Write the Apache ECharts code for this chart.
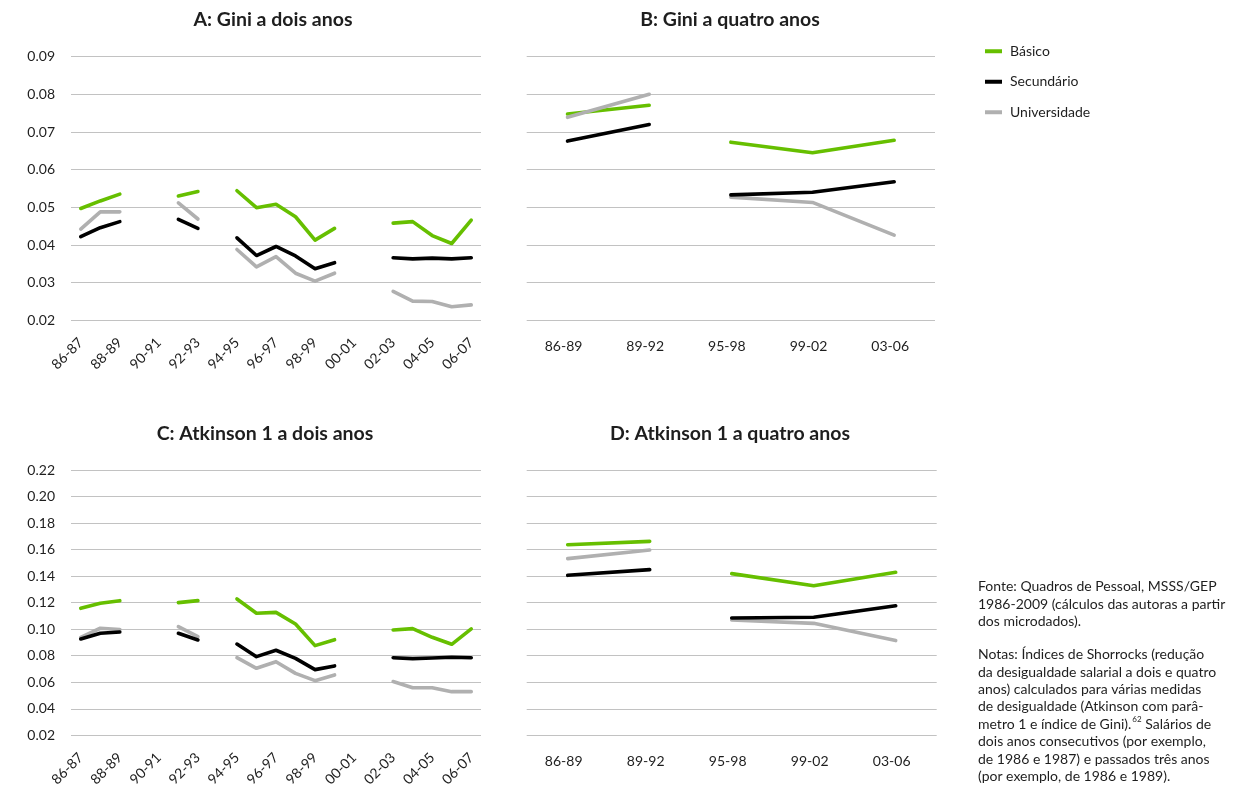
<!DOCTYPE html>
<html>
<head>
<meta charset="utf-8">
<script src="https://cdn.jsdelivr.net/npm/echarts@6/dist/echarts.min.js"></script>
<style>
  html, body { margin: 0; padding: 0; background: #fff; }
  #chart { width: 1254px; height: 794px; }
</style>
</head>
<body>
<div id="chart"></div>
<script>
// Two-year windows (Shorrocks index between consecutive years)
const twoYearCats = ['86-87','87-88','88-89','89-90','90-91','91-92','92-93','93-94','94-95','95-96',
  '96-97','97-98','98-99','99-00','00-01','01-02','02-03','03-04','04-05','05-06','06-07'];
// Four-year windows
const fourYearCats = ['86-89','89-92','95-98','99-02','03-06'];
// the four-year series are interrupted between 89-92 and 95-98
const fourYearBreakAt = 2;

const seriesNames = ['Básico', 'Secundário', 'Universidade'];

// A: Gini, two years
const giniTwoBasico = [0.0497, 0.0517, 0.0535, null, null, 0.0530, 0.0542, null, 0.0544, 0.0499, 0.0508,
  0.0475, 0.0413, 0.0444, null, null, 0.0458, 0.0462, 0.0425, 0.0404, 0.0466];
const giniTwoSecundario = [0.0422, 0.0446, 0.0462, null, null, 0.0468, 0.0444, null, 0.0419, 0.0372, 0.0396,
  0.0371, 0.0337, 0.0353, null, null, 0.0366, 0.0363, 0.0365, 0.0363, 0.0366];
const giniTwoUniversidade = [0.0442, 0.0488, 0.0488, null, null, 0.0512, 0.0469, null, 0.0388, 0.0342, 0.0369,
  0.0325, 0.0304, 0.0325, null, null, 0.0277, 0.0251, 0.0250, 0.0236, 0.0241];

// B: Gini, four years
const giniFourBasico = [0.0748, 0.0771, 0.0673, 0.0645, 0.0678];
const giniFourSecundario = [0.0676, 0.0720, 0.0533, 0.0540, 0.0568];
const giniFourUniversidade = [0.0739, 0.0800, 0.0527, 0.0513, 0.0426];

// C: Atkinson 1, two years
const atkTwoBasico = [0.1157, 0.1195, 0.1215, null, null, 0.1200, 0.1215, null, 0.1228, 0.1120, 0.1127,
  0.1039, 0.0876, 0.0921, null, null, 0.0994, 0.1004, 0.0939, 0.0886, 0.1002];
const atkTwoSecundario = [0.0926, 0.0969, 0.0979, null, null, 0.0969, 0.0919, null, 0.0888, 0.0793, 0.0841,
  0.0780, 0.0695, 0.0723, null, null, 0.0785, 0.0778, 0.0783, 0.0788, 0.0785];
const atkTwoUniversidade = [0.0939, 0.1007, 0.0997, null, null, 0.1019, 0.0944, null, 0.0785, 0.0705, 0.0755,
  0.0667, 0.0612, 0.0655, null, null, 0.0605, 0.0559, 0.0559, 0.0529, 0.0529];

// D: Atkinson 1, four years
const atkFourBasico = [0.1637, 0.1662, 0.1419, 0.1328, 0.1429];
const atkFourSecundario = [0.1406, 0.1449, 0.1084, 0.1090, 0.1177];
const atkFourUniversidade = [0.1532, 0.1597, 0.1069, 0.1044, 0.0914];

// Axis ranges and ticks
const giniAxis = { min: 0.02, max: 0.09, interval: 0.01 };
const atkAxis = { min: 0.02, max: 0.22, interval: 0.02 };

const panelTitles = ['A: Gini a dois anos', 'B: Gini a quatro anos',
  'C: Atkinson 1 a dois anos', 'D: Atkinson 1 a quatro anos'];

const fonteText = 'Fonte: Quadros de Pessoal, MSSS/GEP\n1986-2009 (cálculos das autoras a partir\ndos microdados).';
const notasText = 'Notas: Índices de Shorrocks (redução\nda desigualdade salarial a dois e quatro\nanos) calculados para várias medidas\nde desigualdade (Atkinson com parâ-\nmetro 1 e índice de Gini).{sup|62} Salários de\ndois anos consecutivos (por exemplo,\nde 1986 e 1987) e passados três anos\n(por exemplo, de 1986 e 1989).';

// ---------------------------------------------------------------
const FONT = 'Lato, "Open Sans", sans-serif';
const TEXT = '#1e1e1e';
const GRID_LINE = '#c2c2c2';
const colors = { 'Básico': '#66bf00', 'Secundário': '#000000', 'Universidade': '#b0b0b0' };
// drawing order: green below, grey, black on top
const drawOrder = ['Básico', 'Universidade', 'Secundário'];

const panels = [
  { grid: { left: 71, top: 56.7, width: 410, height: 263.6 }, cats: twoYearCats, axis: giniAxis, yLabels: true, two: true,
    data: { 'Básico': giniTwoBasico, 'Secundário': giniTwoSecundario, 'Universidade': giniTwoUniversidade },
    title: { x: 273, y: 20 } },
  { grid: { left: 526.7, top: 56.7, width: 408.3, height: 263.6 }, cats: fourYearCats, axis: giniAxis, yLabels: false, two: false,
    data: { 'Básico': giniFourBasico, 'Secundário': giniFourSecundario, 'Universidade': giniFourUniversidade },
    title: { x: 730, y: 20 } },
  { grid: { left: 71, top: 470, width: 410, height: 265.3 }, cats: twoYearCats, axis: atkAxis, yLabels: true, two: true,
    data: { 'Básico': atkTwoBasico, 'Secundário': atkTwoSecundario, 'Universidade': atkTwoUniversidade },
    title: { x: 265, y: 434 } },
  { grid: { left: 526.7, top: 470, width: 410, height: 265.3 }, cats: fourYearCats, axis: atkAxis, yLabels: false, two: false,
    data: { 'Básico': atkFourBasico, 'Secundário': atkFourSecundario, 'Universidade': atkFourUniversidade },
    title: { x: 730, y: 434 } }
];

// split a series into the runs that are drawn as separate segments
function runs(values, breakAt) {
  if (breakAt == null) return [values];
  const first = values.map((v, i) => (i < breakAt ? v : '-'));
  const second = values.map((v, i) => (i >= breakAt ? v : '-'));
  return [first, second];
}

const grids = [], xAxes = [], yAxes = [], series = [], graphics = [];

panels.forEach((p, k) => {
  grids.push(Object.assign({ containLabel: false }, p.grid));
  xAxes.push({
    type: 'category', gridIndex: k, data: p.cats, boundaryGap: true,
    axisLine: { show: false }, axisTick: { show: false },
    axisLabel: p.two
      ? { interval: 1, rotate: 45, margin: 20, fontFamily: FONT, fontSize: 14, color: TEXT }
      : { interval: 0, margin: 19, fontFamily: FONT, fontSize: 14, color: TEXT, padding: [0, 8, 0, 0] }
  });
  yAxes.push({
    type: 'value', gridIndex: k, min: p.axis.min, max: p.axis.max, interval: p.axis.interval,
    axisLine: { show: false }, axisTick: { show: false },
    splitLine: { show: true, lineStyle: { color: GRID_LINE, width: 1 } },
    axisLabel: {
      show: p.yLabels, margin: 16, fontFamily: FONT, fontSize: 14, color: TEXT,
      formatter: v => v.toFixed(2)
    }
  });
  drawOrder.forEach(name => {
    runs(p.data[name], p.two ? null : fourYearBreakAt).forEach(seg => {
      series.push({
        type: 'line', name: name, xAxisIndex: k, yAxisIndex: k, data: seg,
        showSymbol: false, symbol: 'none', connectNulls: false, silent: true, animation: false,
        lineStyle: { color: colors[name], width: 3.6, cap: 'round', join: 'round' },
        itemStyle: { color: colors[name] }
      });
    });
  });
  graphics.push({
    type: 'text', x: p.title.x, y: p.title.y,
    style: { text: panelTitles[k], fontFamily: FONT, fontWeight: 'bold', fontSize: 19.5, fill: TEXT,
      align: 'center', verticalAlign: 'middle' }
  });
});

graphics.push({
  type: 'text', left: 978, top: 578,
  style: { text: fonteText, fontFamily: FONT, fontSize: 14, lineHeight: 17.4, fill: TEXT }
});
graphics.push({
  type: 'text', left: 978, top: 646,
  style: {
    text: notasText, fontFamily: FONT, fontSize: 14, lineHeight: 17.4, fill: TEXT,
    rich: { sup: { fontFamily: FONT, fontSize: 8, fill: TEXT, lineHeight: 17.4, verticalAlign: 'top', padding: [0, 0, 7, 1] } }
  }
});

const chart = echarts.init(document.getElementById('chart'), null, { renderer: 'canvas' });
chart.setOption({
  backgroundColor: '#ffffff',
  animation: false,
  grid: grids,
  xAxis: xAxes,
  yAxis: yAxes,
  series: series,
  legend: {
    data: seriesNames, orient: 'vertical', left: 980, top: 36,
    icon: 'rect', itemWidth: 17, itemHeight: 4, itemGap: 10,
    selectedMode: false,
    textStyle: { fontFamily: FONT, fontSize: 14, color: TEXT, lineHeight: 20.5, padding: [0, 0, 0, 3] }
  },
  graphic: graphics
});
</script>
</body>
</html>
